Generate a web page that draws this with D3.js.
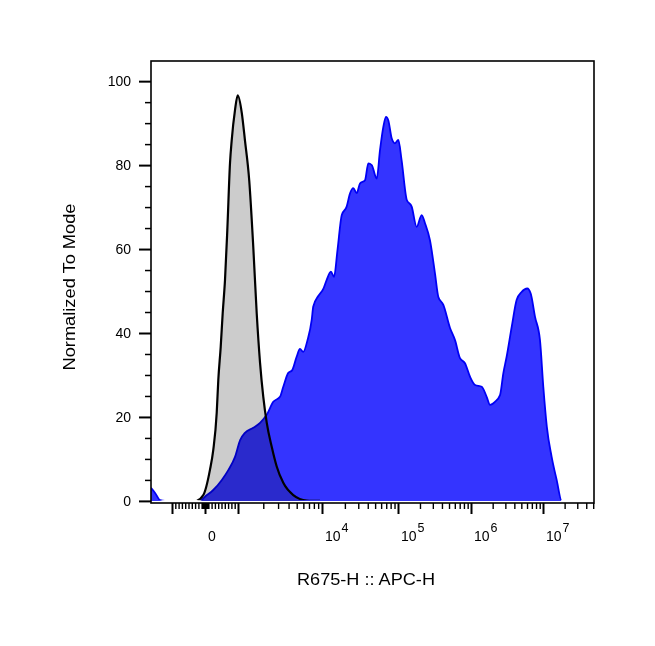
<!DOCTYPE html>
<html>
<head>
<meta charset="utf-8">
<script src="https://cdn.jsdelivr.net/npm/d3@7"></script>
<style>
  body { margin: 0; background: #fff; }
  text { font-family: "Liberation Sans", Arial, sans-serif; fill: #000; }
</style>
</head>
<body>
<div id="container"></div>
<script>
/* CONSTANTS AND GLOBALS */
const width = 655,
  height = 646,
  margin = { top: 61, bottom: 143, left: 151, right: 61 };

/* DATA */
// stained sample (blue): APC-H intensity vs % of mode
const sampleX = [-1780, -1590, -1390, -1210, -150, 0, 250, 510, 710, 910, 1060, 1210, 1520, 1830, 2200, 2630, 3160, 3460, 3970, 4400,
  5000, 5470, 5980, 6720, 7540, 7870, 9030, 10400, 11500, 13100, 14400, 16000, 18200, 21100, 23400, 25800, 28600, 31600, 36800, 40700,
  45100, 52500, 58000, 64100, 69500, 74500, 82600, 91400, 101000, 112000, 132000, 154000, 180000, 211000, 235000, 274000, 321000, 357000, 418000, 516000,
  604000, 707000, 827000, 969000, 1.14e6, 1.41e6, 1.65e6, 1.84e6, 2.15e6, 2.53e6, 2.81e6, 3.13e6, 3.68e6, 4.31e6, 5.06e6, 6.05e6, 6.75e6, 7.74e6, 9.08e6, 1.01e7,
  1.13e7, 1.32e7, 1.55e7, 1.82e7, 5e7]
const sampleY = [3.1, 1.9, 0.2, 0, 0, 1.0, 2.6, 5.0, 7.4, 10.5, 14.5, 16.2, 17.4, 18.6, 20.5, 23.6, 24.8, 27.2, 30.5, 31.1,
  34.4, 36.2, 35.5, 38.3, 43.1, 46.3, 48.8, 50.5, 52.6, 54.6, 53.4, 59.8, 68.1, 70.1, 73.3, 74.5, 73.3, 75.6, 76.4, 80.4,
  80.0, 76.8, 83.6, 89.1, 91.5, 90.7, 86.4, 85.2, 86.0, 81.2, 71.7, 70.1, 65.3, 68.1, 66.1, 62.1, 54.2, 48.6, 46.7, 41.2,
  38.3, 34.0, 32.8, 29.6, 27.6, 27.2, 24.8, 22.9, 23.6, 25.2, 30.4, 34.4, 41.5, 47.9, 49.8, 50.6, 49.4, 43.9, 38.3, 27.2,
  17.7, 10.5, 5.0, 0, 0]

// isotype control (grey)
const controlX = [-250, -50, 150, 250, 355, 403, 476, 536, 606, 676, 758, 809, 909, 991, 1110, 1210, 1360, 1520, 1670, 1830,
  2000, 2200, 2520, 2890, 3460, 4550, 6580, 9460]
const controlY = [0, 1.4, 7.4, 12.1, 21.0, 28.8, 36.7, 44.7, 52.6, 64.5, 80.5, 85.9, 93.1, 96.6, 92.4, 85.9, 76.4, 60.5, 44.7, 32.9,
  24.8, 18.6, 12.9, 8.2, 4.3, 1.4, 0.1, 0]

// axes
const yMajorTicks = [0, 20, 40, 60, 80, 100]
const xMajorTicks = [-1000, 0, 1000, 1e4, 1e5, 1e6, 1e7]
const xLabelValues = [0, 1e4, 1e5, 1e6, 1e7]
const xLabelExponents = ["", "4", "5", "6", "7"]

/* SCALES */

// biexponential style: linear inside +-1000, log decades outside
const biex = v => Math.abs(v) <= 1000 ? v / 1000 : Math.sign(v) * (1 + Math.log10(Math.abs(v) / 1000))

const decadeScale = d3.scaleLinear()
  .domain([-1.25, -1, 0, 1, 2, 3, 4, 5, 5.71])
  .range([0, 21, 54, 87, 171, 247, 320, 392, 443].map(d => margin.left + d))

const xScale = v => decadeScale(biex(v))
xScale.copy = () => xScale
xScale.range = () => [margin.left, width - margin.right]

const yScale = d3.scaleLinear()
  .domain([-0.5, 104.8])
  .range([height - margin.bottom, margin.top])

// minor ticks k*10^e on both sides of zero
const xMinorTicks = []
for (let e = 0; e <= 7; e++) {
  for (let k = 1; k <= 9; k++) {
    const v = k * Math.pow(10, e)
    if (xMajorTicks.includes(v)) continue
    if (v <= 5.1e7) xMinorTicks.push(v)
    if (v < 1780 && !xMajorTicks.includes(-v)) xMinorTicks.push(-v)
  }
}
const yMinorTicks = d3.range(0, 105, 5).filter(d => !yMajorTicks.includes(d))

/* HTML ELEMENTS */

const svg = d3.select("#container")
  .append("svg")
  .attr("width", width)
  .attr("height", height)

const defs = svg.append("defs")
defs.append("clipPath").attr("id", "plot-clip")
  .append("rect")
  .attr("x", margin.left).attr("y", margin.top)
  .attr("width", width - margin.left - margin.right)
  .attr("height", height - margin.top - margin.bottom)
// strokes are hidden along the zero line
defs.append("clipPath").attr("id", "line-clip")
  .append("rect")
  .attr("x", margin.left).attr("y", margin.top)
  .attr("width", width - margin.left - margin.right)
  .attr("height", yScale(0) - 0.8 - margin.top)

const sample = sampleX.map((d, i) => [d, sampleY[i]])
const control = controlX.map((d, i) => [d, controlY[i]])

const area = d3.area()
  .x(d => xScale(d[0]))
  .y0(yScale(0))
  .y1(d => yScale(d[1]))
  .curve(d3.curveMonotoneX)

const line = d3.line()
  .x(d => xScale(d[0]))
  .y(d => yScale(d[1]))
  .curve(d3.curveMonotoneX)

// sample histogram
svg.append("path")
  .datum(sample)
  .attr("clip-path", "url(#plot-clip)")
  .attr("d", area)
  .attr("fill", "#3434ff")

svg.append("path")
  .datum(sample)
  .attr("clip-path", "url(#line-clip)")
  .attr("d", line)
  .attr("fill", "none")
  .attr("stroke", "#0000f5")
  .attr("stroke-width", 1.8)

// control histogram, multiplied over the blue
const ctrl = svg.append("g")
  .style("mix-blend-mode", "multiply")

ctrl.append("path")
  .datum(control)
  .attr("clip-path", "url(#plot-clip)")
  .attr("d", area)
  .attr("fill", "#cccccc")

ctrl.append("path")
  .datum(control)
  .attr("clip-path", "url(#line-clip)")
  .attr("d", line)
  .attr("fill", "none")
  .attr("stroke", "#000")
  .attr("stroke-width", 2.2)

// frame
svg.append("rect")
  .attr("x", margin.left)
  .attr("y", margin.top)
  .attr("width", width - margin.left - margin.right)
  .attr("height", height - margin.top - margin.bottom)
  .attr("fill", "none")
  .attr("stroke", "#000")
  .attr("stroke-width", 1.6)

// y axis
const yAxisMajor = svg.append("g")
  .attr("transform", `translate(${margin.left},0)`)
  .call(d3.axisLeft(yScale).tickValues(yMajorTicks).tickSize(12).tickPadding(8))
yAxisMajor.select(".domain").remove()
yAxisMajor.selectAll("line").attr("stroke-width", 2)
yAxisMajor.selectAll("text")
  .attr("font-size", 14)
  .attr("font-family", "Liberation Sans, Arial, sans-serif")
  .attr("fill", "#000")

const yAxisMinor = svg.append("g")
  .attr("transform", `translate(${margin.left},0)`)
  .call(d3.axisLeft(yScale).tickValues(yMinorTicks).tickSize(6).tickFormat(""))
yAxisMinor.select(".domain").remove()
yAxisMinor.selectAll("line").attr("stroke-width", 1.5)

// x axis
const xAxisMajor = svg.append("g")
  .attr("transform", `translate(0,${height - margin.bottom})`)
  .call(d3.axisBottom(xScale).tickValues(xMajorTicks).tickSize(11).tickFormat(""))
xAxisMajor.select(".domain").remove()
xAxisMajor.selectAll("line").attr("stroke-width", 2)

const xAxisMinor = svg.append("g")
  .attr("transform", `translate(0,${height - margin.bottom})`)
  .call(d3.axisBottom(xScale).tickValues(xMinorTicks).tickSize(6).tickFormat(""))
xAxisMinor.select(".domain").remove()
xAxisMinor.selectAll("line").attr("stroke-width", 1.4)

// x tick labels with superscript exponents
const xLabels = svg.selectAll("text.xlabel")
  .data(xLabelValues)
  .join("text")
  .attr("class", "xlabel")
  .attr("x", d => xScale(d) + 3)
  .attr("y", height - margin.bottom + 38)
  .attr("font-size", 14)

xLabels.append("tspan")
  .text((d, i) => xLabelExponents[i] === "" ? "0" : "10")

xLabels.filter((d, i) => xLabelExponents[i] !== "")
  .append("tspan")
  .attr("dx", 1)
  .attr("dy", -9)
  .attr("font-size", 12.5)
  .text(d => xLabelExponents[xLabelValues.indexOf(d)])

// axis titles
svg.append("text")
  .attr("x", 366)
  .attr("y", 585)
  .attr("text-anchor", "middle")
  .attr("font-size", 16.5)
  .attr("textLength", 138)
  .attr("lengthAdjust", "spacingAndGlyphs")
  .text("R675-H :: APC-H")

svg.append("text")
  .attr("transform", "rotate(-90)")
  .attr("x", -287)
  .attr("y", 75)
  .attr("text-anchor", "middle")
  .attr("font-size", 16.5)
  .attr("textLength", 167)
  .attr("lengthAdjust", "spacingAndGlyphs")
  .text("Normalized To Mode")
</script>
</body>
</html>
